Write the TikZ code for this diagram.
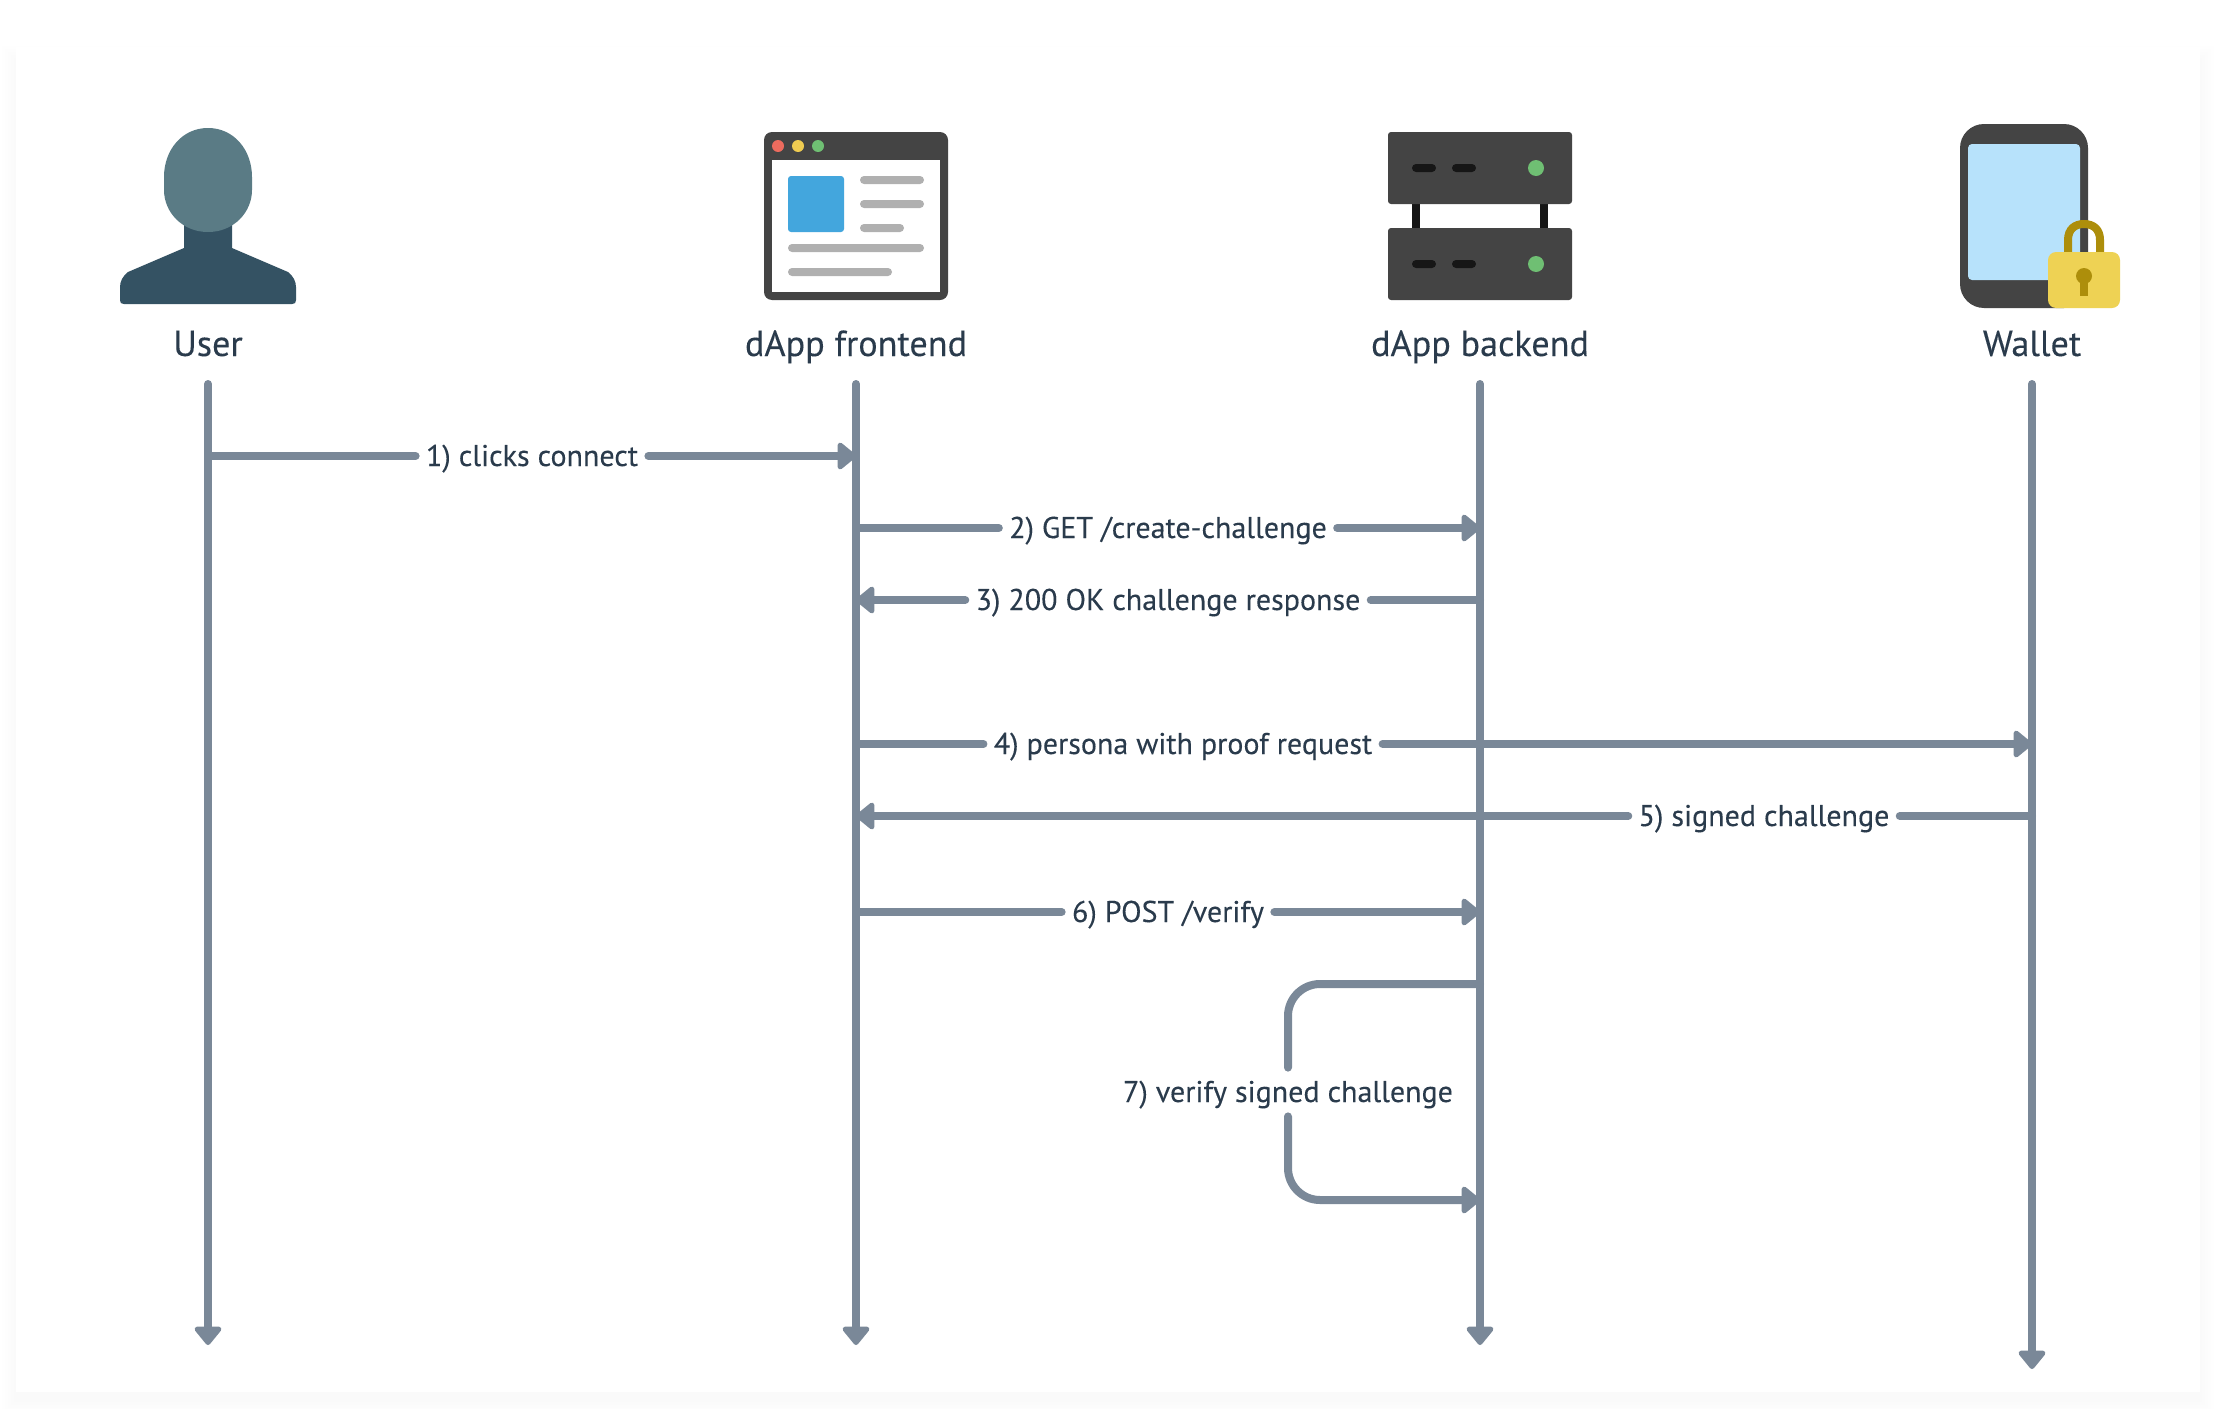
\documentclass[tikz,border=0pt]{standalone}
\usepackage{fontspec}
\setmainfont{PT Sans}[FakeBold=0.15]
\usepackage{tikz}
\usetikzlibrary{arrows.meta, positioning}

\definecolor{wire}{HTML}{7A8898}
\definecolor{ink}{HTML}{2A3B4C}
\definecolor{dark}{HTML}{444444}
\definecolor{slotdark}{HTML}{161616}
\definecolor{bargrey}{HTML}{B0B0B0}
\definecolor{ledgreen}{HTML}{6FBF73}
\definecolor{lockgold}{HTML}{AD8E0B}

\begin{document}
\begin{tikzpicture}[x=0.5pt,y=-0.5pt,>={Triangle[length=10pt,width=15.5pt,round]},
        lifeline/.style={draw=wire,line width=4pt,line cap=round,->},
        msg/.style={draw=wire,line width=4pt,line cap=round},
        actor/.style={text=ink,font=\fontsize{18.1}{20}\selectfont,inner sep=0pt,text height=14pt,text depth=4pt},
        msglabel/.style={text=ink,font=\fontsize{15}{17}\selectfont,inner xsep=5pt,inner ysep=0pt,
            minimum height=24pt,text height=12pt,text depth=2pt},
        bar/.style={fill=bargrey,rounded corners=2pt},
        slot/.style={fill=slotdark,rounded corners=2pt}]

      \useasboundingbox (0,0) rectangle (2216,1408);
      \fill[white] (0,0) rectangle (2216,1408);
      \foreach \d in {2,5,...,14}
        \fill[black,opacity=0.005] ({16-\d},{60-\d}) rectangle ({2200+\d},{1400+\d});
      \fill[white] (16,47) rectangle (2200,1392);

      \fill[fill={rgb,255:red,52;green,82;blue,99}] (184,220) -- (232,220) -- (232,248) -- (288,272)
          .. controls (293,276) and (296,281) .. (296,287) -- (296,300) .. controls (296,303) and (295,304) .. (292,304)
          -- (124,304) .. controls (121,304) and (120,303) .. (120,300) -- (120,287)
          .. controls (120,281) and (123,276) .. (128,272) -- (184,248) -- cycle;
      \fill[fill={rgb,255:red,90;green,123;blue,133}] (164,177) .. controls (164,150) and (182,128) .. (208,128)
          .. controls (234,128) and (252,150) .. (252,177) -- (252,190) .. controls (252,212) and (234,232) .. (208,232)
          .. controls (182,232) and (164,212) .. (164,190) -- cycle;

      \fill[dark,rounded corners=4pt] (764,132) rectangle (948,300);
      \fill[white] (772,160) rectangle (940,292);
      \fill[fill={rgb,255:red,236;green,107;blue,94}] (778,146) circle[radius=6];
      \fill[fill={rgb,255:red,239;green,203;blue,81}] (798,146) circle[radius=6];
      \fill[ledgreen] (818,146) circle[radius=6];
      \fill[fill={rgb,255:red,67;green,166;blue,221},rounded corners=1.5pt] (788,176) rectangle (844,232);
      \fill[bar] (860,176) rectangle (924,184);
      \fill[bar] (860,200) rectangle (924,208);
      \fill[bar] (860,224) rectangle (904,232);
      \fill[bar] (788,244) rectangle (924,252);
      \fill[bar] (788,268) rectangle (892,276);

      \fill[slotdark] (1412,204) rectangle (1420,228);
      \fill[slotdark] (1540,204) rectangle (1548,228);
      \fill[dark,rounded corners=1.5pt] (1388,132) rectangle (1572,204);
      \fill[dark,rounded corners=1.5pt] (1388,228) rectangle (1572,300);
      \fill[slot] (1412,164) rectangle (1436,172);
      \fill[slot] (1452,164) rectangle (1476,172);
      \fill[slot] (1412,260) rectangle (1436,268);
      \fill[slot] (1452,260) rectangle (1476,268);
      \fill[ledgreen] (1536,168) circle[radius=8];
      \fill[ledgreen] (1536,264) circle[radius=8];

      \fill[dark,rounded corners=12pt] (1960,124) rectangle (2088,308);
      \fill[fill={rgb,255:red,183;green,226;blue,251},rounded corners=2pt] (1968,144) rectangle (2080,280);
      \draw[lockgold,line width=4pt] (2068,254) -- (2068,240) .. controls (2068,229) and (2075,224) .. (2084,224)
          .. controls (2093,224) and (2100,229) .. (2100,240) -- (2100,254);
      \fill[fill={rgb,255:red,238;green,210;blue,84},rounded corners=4pt] (2048,252) rectangle (2120,308);
      \fill[lockgold] (2084,276) circle[radius=8];
      \fill[lockgold] (2080,276) rectangle (2088,296);

      \node[actor] (user)     at (208,346)  {User};
      \node[actor] (frontend) at (856,346)  {dApp frontend};
      \node[actor] (backend)  at (1480,346) {dApp backend};
      \node[actor] (wallet)   at (2032,346) {Wallet};

      \coordinate (user_top)     at (208,384);
      \coordinate (frontend_top) at (856,384);
      \coordinate (backend_top)  at (1480,384);
      \coordinate (wallet_top)   at (2032,384);
      \coordinate (user_end)     at (208,1345);
      \coordinate (frontend_end) at (856,1345);
      \coordinate (backend_end)  at (1480,1345);
      \coordinate (wallet_end)   at (2032,1369);

      \draw[lifeline] (user_top) -- (user_end);
      \draw[lifeline] (frontend_top) -- (frontend_end);
      \draw[lifeline] (backend_top) -- (backend_end);
      \draw[lifeline] (wallet_top) -- (wallet_end);

      \coordinate (u1) at (208,456);   \coordinate (f1) at (856,456);
      \coordinate (f2) at (856,528);   \coordinate (b2) at (1480,528);
      \coordinate (f3) at (856,600);   \coordinate (b3) at (1480,600);
      \coordinate (f4) at (856,744);   \coordinate (w4) at (2032,744);
      \coordinate (f5) at (856,816);   \coordinate (w5) at (2032,816);
      \coordinate (f6) at (856,912);   \coordinate (b6) at (1480,912);
      \coordinate (b7a) at (1480,984); \coordinate (b7b) at (1480,1200);

      \node[msglabel] (m1) at (532,456)  {1) clicks connect};
      \node[msglabel] (m2) at (1168,528) {2) GET /create-challenge};
      \node[msglabel] (m3) at (1168,600) {3) 200 OK challenge response};
      \node[msglabel] (m4) at (1183,744) {4) persona with proof request};
      \node[msglabel] (m5) at (1764,816) {5) signed challenge};
      \node[msglabel] (m6) at (1168,912) {6) POST /verify};
      \node[msglabel] (m7) at (1288,1092) {7) verify signed challenge};

      \draw[msg] (u1) -- (m1);
      \draw[msg,->] (m1) -- (f1);
      \draw[msg] (f2) -- (m2);
      \draw[msg,->] (m2) -- (b2);
      \draw[msg] (b3) -- (m3);
      \draw[msg,->] (m3) -- (f3);
      \draw[msg] (f4) -- (m4);
      \draw[msg,->] (m4) -- (w4);
      \draw[msg] (w5) -- (m5);
      \draw[msg,->] (m5) -- (f5);
      \draw[msg] (f6) -- (m6);
      \draw[msg,->] (m6) -- (b6);
      \draw[msg,rounded corners=16pt] (b7a) -| (m7.north);
      \draw[msg,->,rounded corners=16pt] (m7.south) |- (b7b);
\end{tikzpicture}
\end{document}
